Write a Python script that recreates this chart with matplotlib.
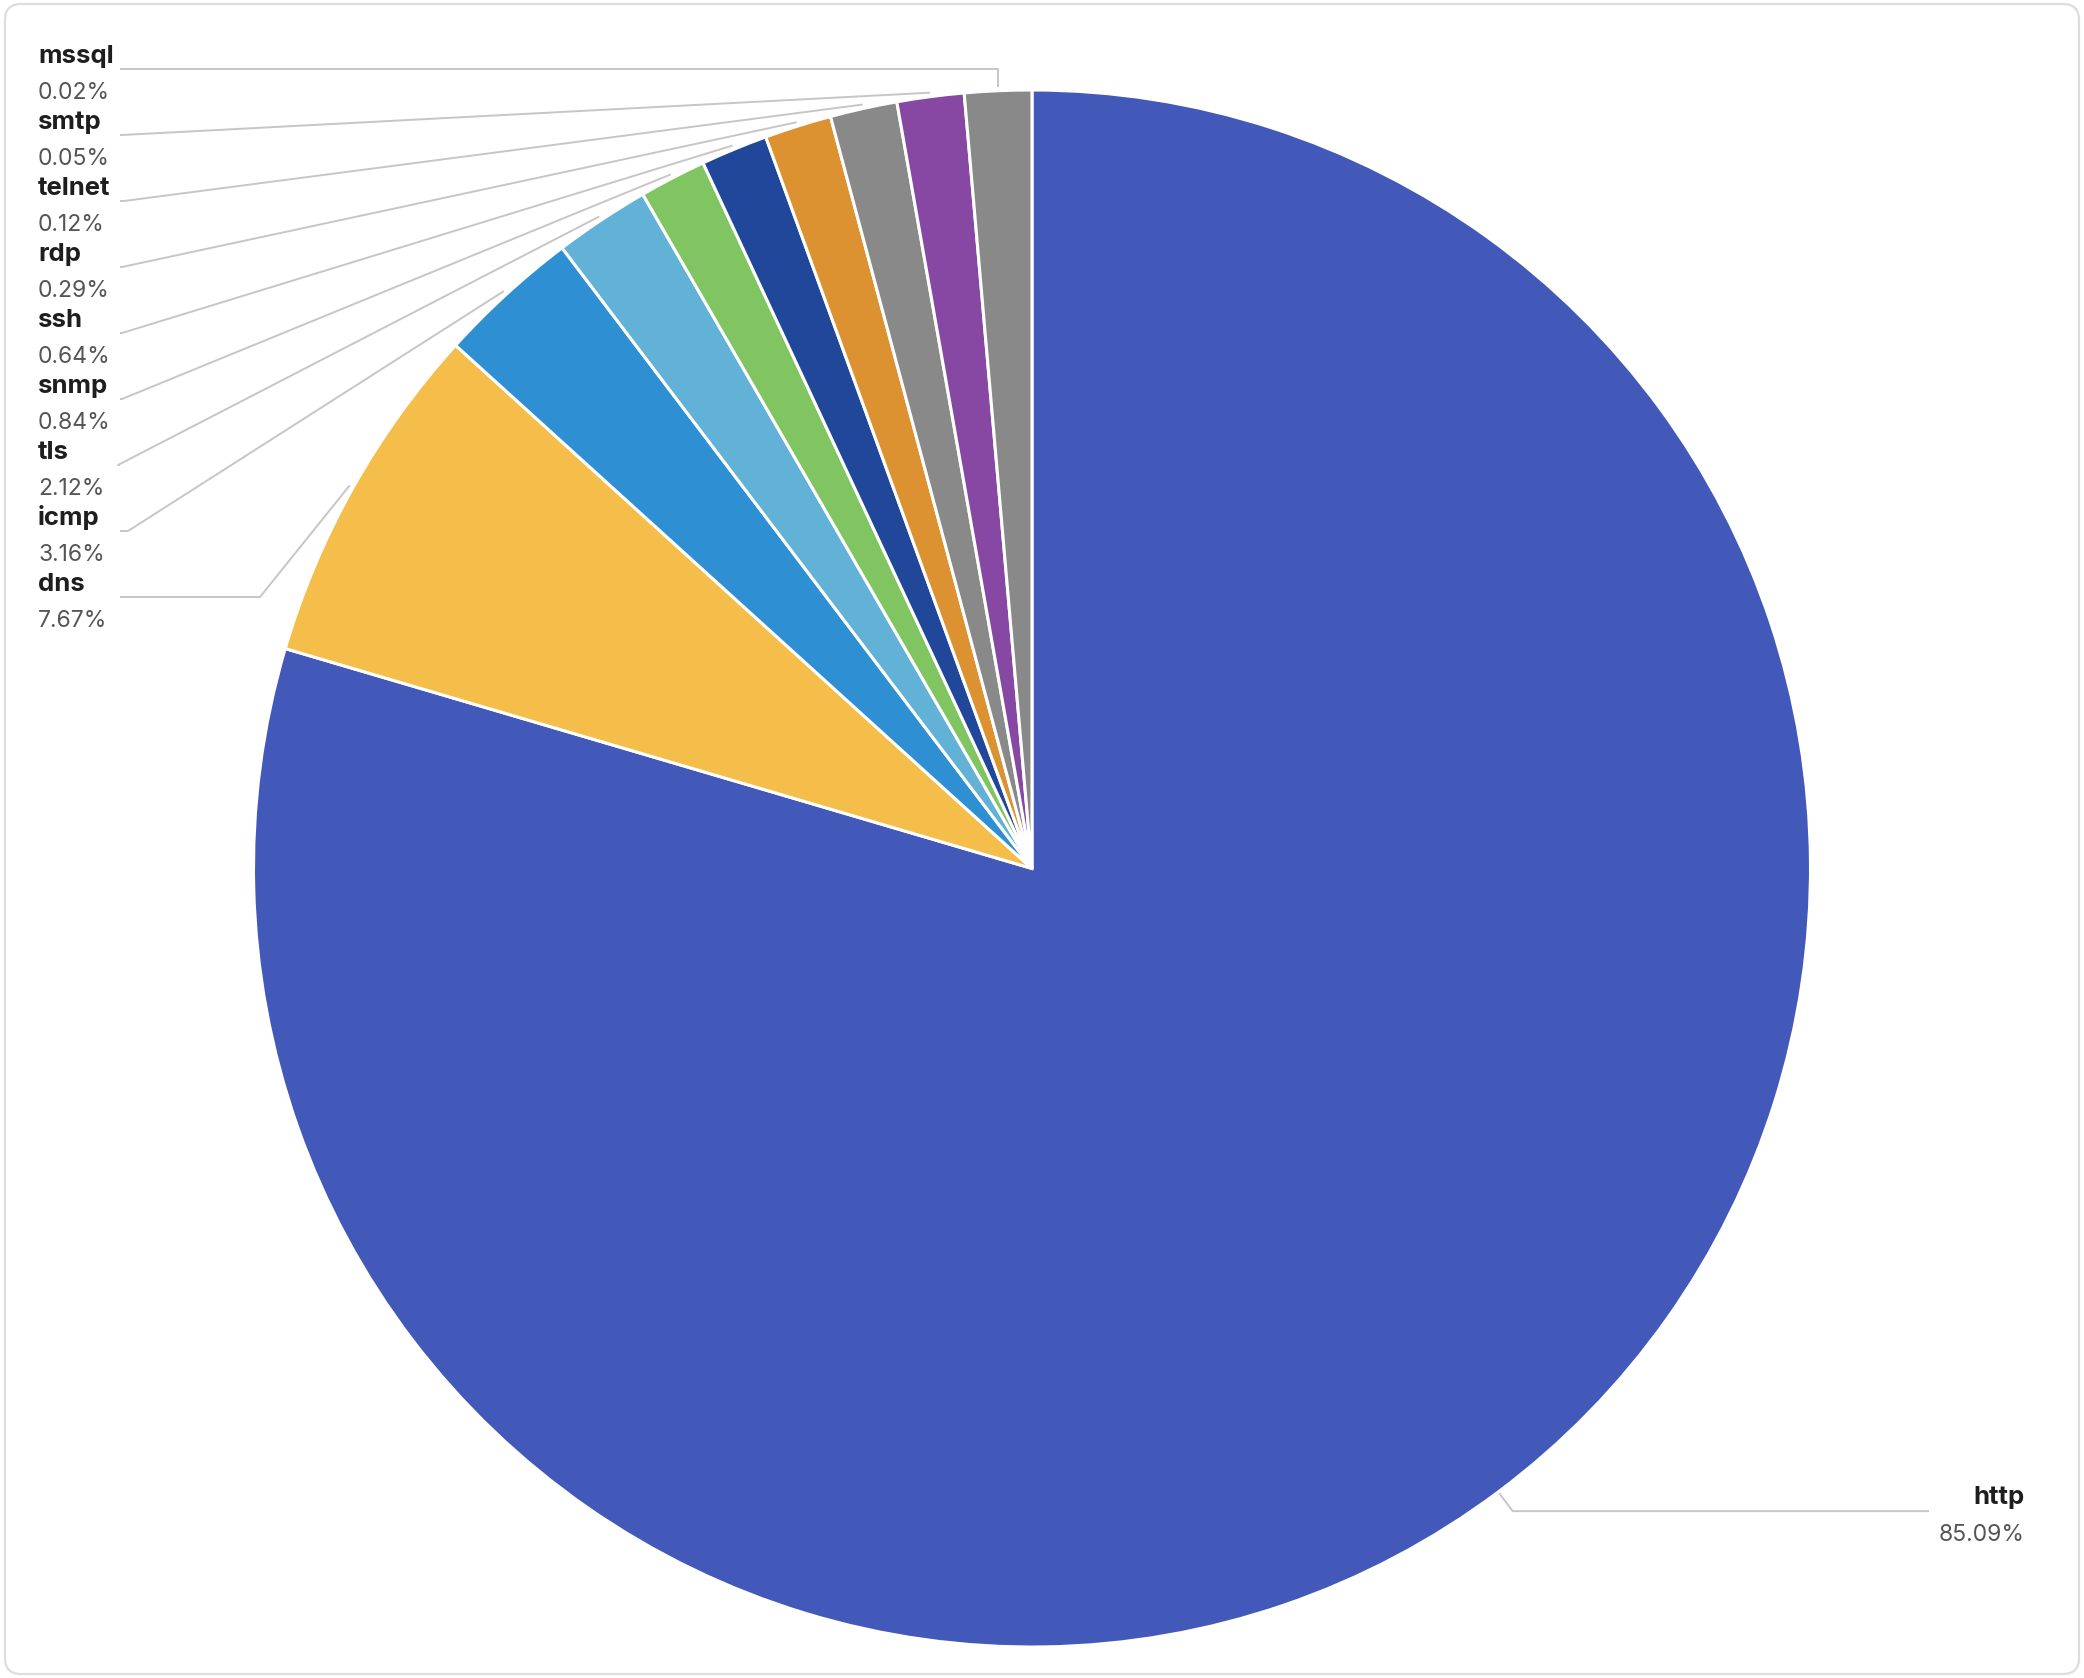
import numpy as np
import matplotlib
matplotlib.use('Agg')
import matplotlib.pyplot as plt
from matplotlib.patches import FancyBboxPatch

# data
protocols = ['http', 'dns', 'icmp', 'tls', 'snmp', 'ssh', 'rdp', 'telnet', 'smtp', 'mssql']
shares = [85.09, 7.67, 3.16, 2.12, 0.84, 0.64, 0.29, 0.12, 0.05, 0.02]
colors = ['#4359b9', '#f5bd4a', '#2e8fd2', '#62b1d6', '#81c462',
          '#21479a', '#dc9230', '#898989', '#8648a2', '#898989']

W, H = 2084, 1678
cx, cy, R = 1032, 868.5, 778.5
min_angle = 5.0  # small slices drawn with a minimum angle

vals = np.array(shares)
raw = vals / vals.sum() * 360
small = raw < min_angle
rest = 360 - min_angle * small.sum()
angles = np.where(small, min_angle, raw / raw[~small].sum() * rest)

fig = plt.figure(figsize=(W / 100, H / 100), dpi=100)
fig.patch.set_facecolor('white')

# frame
ov = fig.add_axes([0, 0, 1, 1])
ov.set_xlim(0, W)
ov.set_ylim(H, 0)
ov.axis('off')
ov.add_patch(FancyBboxPatch((5, 4), W - 10, H - 8,
                            boxstyle='round,pad=0,rounding_size=16',
                            fc='white', ec='#dddddd', lw=1.6, zorder=0))

# pie
ax = fig.add_axes([(cx - R) / W, (H - cy - R) / H, 2 * R / W, 2 * R / H])
ax.pie(angles, colors=colors, startangle=90, counterclock=False, radius=1,
       wedgeprops=dict(edgecolor='white', linewidth=2.2))
ax.set_xlim(-1, 1)
ax.set_ylim(-1, 1)
ax.axis('off')

# mid angles (math convention, degrees)
ends = 90 - np.cumsum(angles)
mids = ends + angles / 2

font = ['Inter', 'DejaVu Sans']
line_col = '#c6c6c6'
name_size, pct_size = 18.5, 16.5


def edge_pt(theta, r):
    t = np.deg2rad(theta)
    return cx + r * np.cos(t), cy - r * np.sin(t)


# left labels, top to bottom: mssql ... dns
left_order = list(range(len(protocols) - 1, 0, -1))
knee_x = {9: None, 8: 122, 7: 124, 6: 122, 5: 122, 4: 122, 3: 118, 2: 128, 1: 260}
for k, i in enumerate(left_order):
    ly = 69 + 66 * k
    x0, y0 = edge_pt(mids[i], R + 4)
    if knee_x[i] is None:
        kx, ky = x0, ly
    else:
        kx, ky = knee_x[i], ly
    ov.plot([x0, kx, 120], [y0, ky, ly], color=line_col, lw=1.4,
            solid_capstyle='butt', zorder=2)
    ov.text(38, ly - 6, protocols[i], fontsize=name_size, fontweight='bold',
            color='#1e1e1e', family=font, va='baseline', ha='left')
    ov.text(38, ly + 30, f'{shares[i]:.2f}%', fontsize=pct_size,
            color='#555555', family=font, va='baseline', ha='left')

# http label on the right
x0, y0 = edge_pt(mids[0], R + 2)
x1, y1 = edge_pt(mids[0], R + 24)
ov.plot([x0, x1, 1928], [y0, y1, y1], color=line_col, lw=1.4, zorder=2)
ov.text(2025, y1 - 7, protocols[0], fontsize=name_size, fontweight='bold',
        color='#1e1e1e', family=font, va='baseline', ha='right')
ov.text(2025, y1 + 30, f'{shares[0]:.2f}%', fontsize=pct_size,
        color='#555555', family=font, va='baseline', ha='right')

fig.savefig('out.png', dpi=100, facecolor='white')
